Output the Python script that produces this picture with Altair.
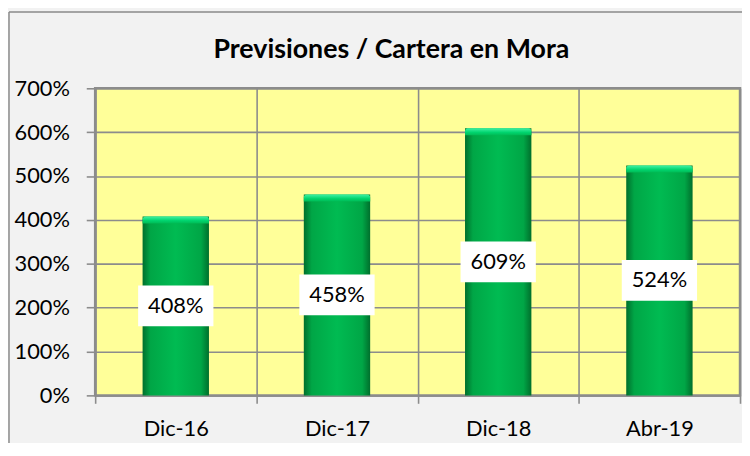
import altair as alt
import pandas as pd

# ---- data ----
categories = ["Dic-16", "Dic-17", "Dic-18", "Abr-19"]
values = [408, 458, 609, 524]          # percent
y_ticks = [0, 100, 200, 300, 400, 500, 600, 700]
chart_title = "Previsiones / Cartera en Mora"

df = pd.DataFrame({"periodo": categories, "valor": values})
one = pd.DataFrame({"d": [0]})

FONT = "Lato"
GRID = "#8c8c8c"

x_enc = alt.X(
    "periodo:N", sort=categories, title=None,
    scale=alt.Scale(paddingInner=0, paddingOuter=0),
    axis=alt.Axis(
        tickBand="extent", grid=True, gridColor=GRID, gridWidth=1.6,
        domainColor=GRID, domainWidth=2, tickColor=GRID, tickWidth=1.6,
        tickSize=8, labelFont=FONT, labelFontSize=22, labelColor="black",
        labelPadding=16, labelAngle=0,
    ),
)
y_scale = alt.Scale(domain=[0, 700], nice=False, zero=True)
y_axis = alt.Axis(
    values=y_ticks, labelExpr="datum.value + '%'", grid=True,
    gridColor=GRID, gridWidth=1.6, domainColor=GRID, domainWidth=2,
    tickColor=GRID, tickWidth=1.6, tickSize=9, labelFont=FONT,
    labelFontSize=22, labelColor="black", labelPadding=17,
)

bar_fill = alt.LinearGradient(
    gradient="linear", x1=0, x2=1, y1=0, y2=0,
    stops=[
        alt.GradientStop(color="#006f2c", offset=0),
        alt.GradientStop(color="#00a646", offset=0.12),
        alt.GradientStop(color="#00bb52", offset=0.5),
        alt.GradientStop(color="#00a646", offset=0.88),
        alt.GradientStop(color="#006f2c", offset=1),
    ],
)
bevel_fill = alt.LinearGradient(
    gradient="linear", x1=0, x2=0, y1=0, y2=1,
    stops=[
        alt.GradientStop(color="#3ff2a4", offset=0),
        alt.GradientStop(color="#00d46e", offset=0.6),
        alt.GradientStop(color="#00bb55", offset=1),
    ],
)

base = alt.Chart(df).encode(x=x_enc)

bars = base.mark_bar(color=bar_fill, width=67).encode(
    y=alt.Y("valor:Q", scale=y_scale, axis=y_axis, title=None)
)
bevel = base.transform_calculate(top2="datum.valor - 16").mark_bar(
    color=bevel_fill, width=67, cornerRadiusTopLeft=3, cornerRadiusTopRight=3
).encode(
    y=alt.Y("valor:Q", scale=y_scale, axis=y_axis, title=None),
    y2="top2:Q",
)
boxes = base.transform_calculate(
    lo="datum.valor / 2 - 46.5", hi="datum.valor / 2 + 46.5"
).mark_bar(width=76, color="white").encode(
    y=alt.Y("lo:Q", scale=y_scale, axis=y_axis, title=None),
    y2="hi:Q",
)
labels = base.transform_calculate(
    mid="datum.valor / 2", txt="datum.valor + '%'"
).mark_text(font=FONT, fontSize=22, color="black", baseline="middle").encode(
    y=alt.Y("mid:Q", scale=y_scale, axis=y_axis, title=None),
    text="txt:N",
)

frame_top = alt.Chart(one).mark_rule(color="#8a8a8a", strokeWidth=1.5).encode(
    x=alt.value(-87), x2=alt.value(700), y=alt.value(-77)
)
frame_left = alt.Chart(one).mark_rule(color="#8a8a8a", strokeWidth=1.5).encode(
    x=alt.value(-87), y=alt.value(-77), y2=alt.value(400)
)
title = alt.Chart(one).mark_text(
    text=chart_title, font=FONT, fontSize=27, fontWeight="bold",
    color="black", align="center", baseline="alphabetic",
).encode(x=alt.value(299), y=alt.value(-31))

chart = alt.layer(
    bars, bevel, boxes, labels, frame_top, frame_left, title
).properties(
    width=651, height=310,
    autosize=alt.AutoSizeParams(type="none"),
    padding={"left": 88, "top": 79, "right": 2, "bottom": 46},
    background="#f2f2f2",
).configure_view(
    fill="#ffff99", stroke=GRID, strokeWidth=2.5
)

chart.save("out.html", embed_options={"renderer": "svg", "actions": False})
